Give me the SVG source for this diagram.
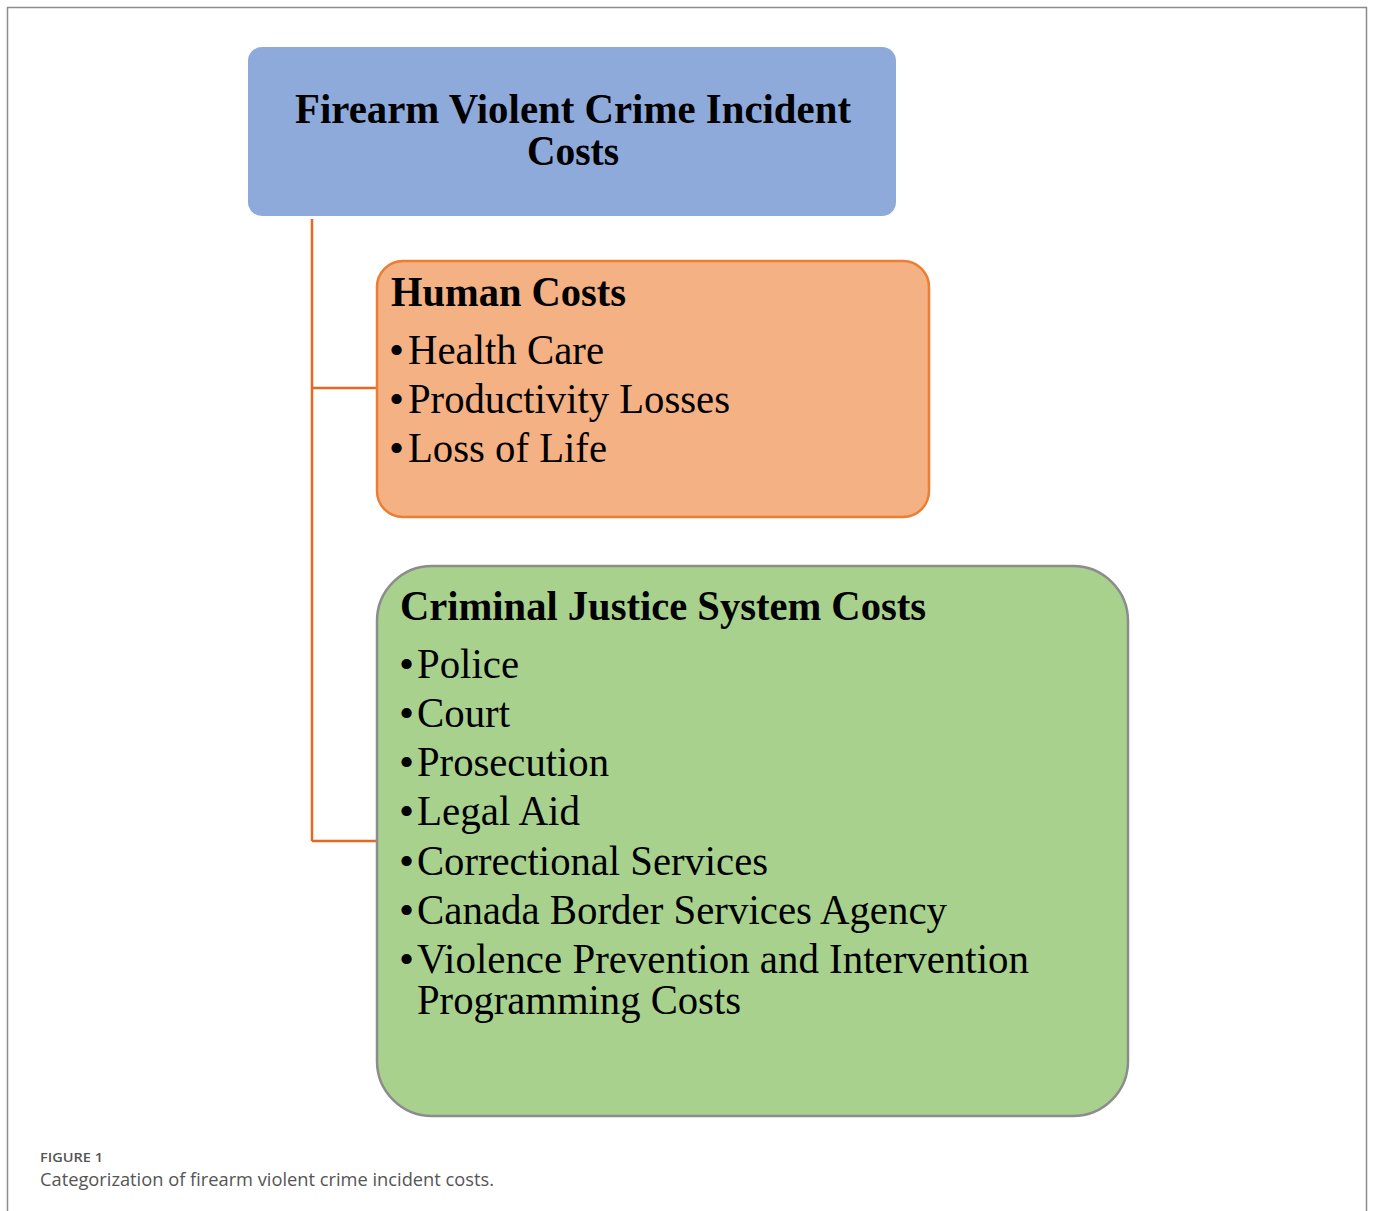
<svg xmlns="http://www.w3.org/2000/svg" width="1373" height="1211" viewBox="0 0 1373 1211">
  <style>
    .serif { font-family: "Liberation Serif", "Times New Roman", serif; fill: #000; }
    .head { font-size: 43px; font-weight: bold; }
    .item { font-size: 43px; }
    .link { fill: none; stroke: #e4691f; stroke-width: 2.5; }
    .cap { font-family: "Open Sans", "Noto Sans", sans-serif; fill: #555; }
  </style>

  <rect x="0" y="0" width="1373" height="1211" fill="#fff"/>
  <!-- figure frame (open at the bottom) -->
  <path d="M7.5 1215 V7.5 H1366.5 V1215" fill="none" stroke="#8c8c8c" stroke-width="1.5"/>

  <!-- connectors -->
  <g id="connectors">
    <path class="link" d="M312 219 V841"/>
    <path class="link" d="M312 388 H377"/>
    <path class="link" d="M312 841 H377"/>
  </g>

  <!-- root node -->
  <g id="root">
    <rect x="248" y="47" width="648" height="169" rx="14" fill="#8eaadb"/>
    <text class="serif head" x="573" y="123" text-anchor="middle" textLength="556" lengthAdjust="spacingAndGlyphs">Firearm Violent Crime Incident</text>
    <text class="serif head" x="573" y="165" text-anchor="middle" textLength="92" lengthAdjust="spacingAndGlyphs">Costs</text>
  </g>

  <!-- human costs node -->
  <g id="human-costs">
    <rect x="377" y="261" width="552" height="256" rx="26" fill="#f4b183" stroke="#ed7d31" stroke-width="2.5"/>
    <text class="serif head" x="391" y="306" textLength="235" lengthAdjust="spacingAndGlyphs">Human Costs</text>
    <g class="serif item">
      <text x="389" y="364">•</text><text x="408" y="364" textLength="196" lengthAdjust="spacingAndGlyphs">Health Care</text>
      <text x="389" y="413">•</text><text x="408" y="413" textLength="322" lengthAdjust="spacingAndGlyphs">Productivity Losses</text>
      <text x="389" y="462">•</text><text x="408" y="462" textLength="199" lengthAdjust="spacingAndGlyphs">Loss of Life</text>
    </g>
  </g>

  <!-- criminal justice system costs node -->
  <g id="justice-costs">
    <rect x="377" y="566" width="751" height="550" rx="55" fill="#a9d18e" stroke="#8c8c8c" stroke-width="2.5"/>
    <text class="serif head" x="400" y="620" textLength="526" lengthAdjust="spacingAndGlyphs">Criminal Justice System Costs</text>
    <g class="serif item">
      <text x="399" y="678">•</text><text x="417" y="678" textLength="102" lengthAdjust="spacingAndGlyphs">Police</text>
      <text x="399" y="727">•</text><text x="417" y="727" textLength="93" lengthAdjust="spacingAndGlyphs">Court</text>
      <text x="399" y="776">•</text><text x="417" y="776" textLength="192" lengthAdjust="spacingAndGlyphs">Prosecution</text>
      <text x="399" y="825">•</text><text x="417" y="825" textLength="163" lengthAdjust="spacingAndGlyphs">Legal Aid</text>
      <text x="399" y="875">•</text><text x="417" y="875" textLength="351" lengthAdjust="spacingAndGlyphs">Correctional Services</text>
      <text x="399" y="924">•</text><text x="417" y="924" textLength="530" lengthAdjust="spacingAndGlyphs">Canada Border Services Agency</text>
      <text x="399" y="973">•</text><text x="417" y="973" textLength="612" lengthAdjust="spacingAndGlyphs">Violence Prevention and Intervention</text>
      <text x="417" y="1014" textLength="324" lengthAdjust="spacingAndGlyphs">Programming Costs</text>
    </g>
  </g>

  <!-- caption -->
  <text class="cap" x="40" y="1162" font-size="13" font-weight="600" textLength="63" lengthAdjust="spacingAndGlyphs">FIGURE 1</text>
  <text class="cap" x="40" y="1186" font-size="18" textLength="454" lengthAdjust="spacingAndGlyphs">Categorization of firearm violent crime incident costs.</text>
</svg>
